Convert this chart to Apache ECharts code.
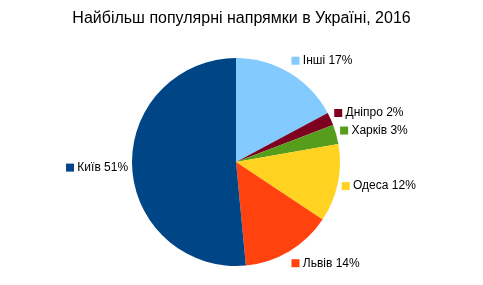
<!DOCTYPE html>
<html><head><meta charset="utf-8">
<script src="https://cdn.jsdelivr.net/npm/echarts@6/dist/echarts.min.js"></script>
<style>html,body{margin:0;padding:0;background:#fff}#c{width:483px;height:285px}</style>
</head><body><div id="c"></div>
<script>
const title = 'Найбільш популярні напрямки в Україні, 2016';
const categories = ['Інші', 'Дніпро', 'Харків', 'Одеса', 'Львів', 'Київ'];
const values = [17, 2, 3, 12, 14, 51];
const colors = ['#83caff', '#7e0021', '#579d1c', '#ffd320', '#ff420e', '#004586'];

const rich = {t: {fontFamily: 'Liberation Sans', fontSize: 12, color: '#000'}};
colors.forEach((c, i) => { rich['m' + i] = {backgroundColor: c, width: 8, height: 8}; });

// mid angle (from 12 o'clock, clockwise) of each slice, used to push labels off the pie vertically
const total = values.reduce((a, b) => a + b, 0);
let acc = 0;
const midAngles = values.map(v => { const m = (acc + v / 2) / total * 2 * Math.PI; acc += v; return m; });

const chart = echarts.init(document.getElementById('c'));
chart.setOption({
  animation: false,
  title: {text: title, left: 'center', top: 6,
    textStyle: {fontFamily: 'Liberation Sans', fontSize: 16, fontWeight: 'normal', color: '#000'}},
  series: [{
    type: 'pie',
    center: [236, 162],
    radius: 104,
    startAngle: 90,
    clockwise: true,
    avoidLabelOverlap: false,
    label: {show: true, position: 'outside', distanceToLabelLine: 0,
      formatter: p => '{m' + p.dataIndex + '|} {t|' + p.name + ' ' + p.value + '%}', rich: rich},
    labelLine: {show: false, length: 4, length2: 0},
    labelLayout: p => ({dy: -Math.cos(midAngles[p.dataIndex]) * (p.labelRect.height / 2 + 4)}),
    itemStyle: {borderWidth: 0},
    data: categories.map((n, i) => ({name: n, value: values[i], itemStyle: {color: colors[i]}}))
  }]
});
</script></body></html>
